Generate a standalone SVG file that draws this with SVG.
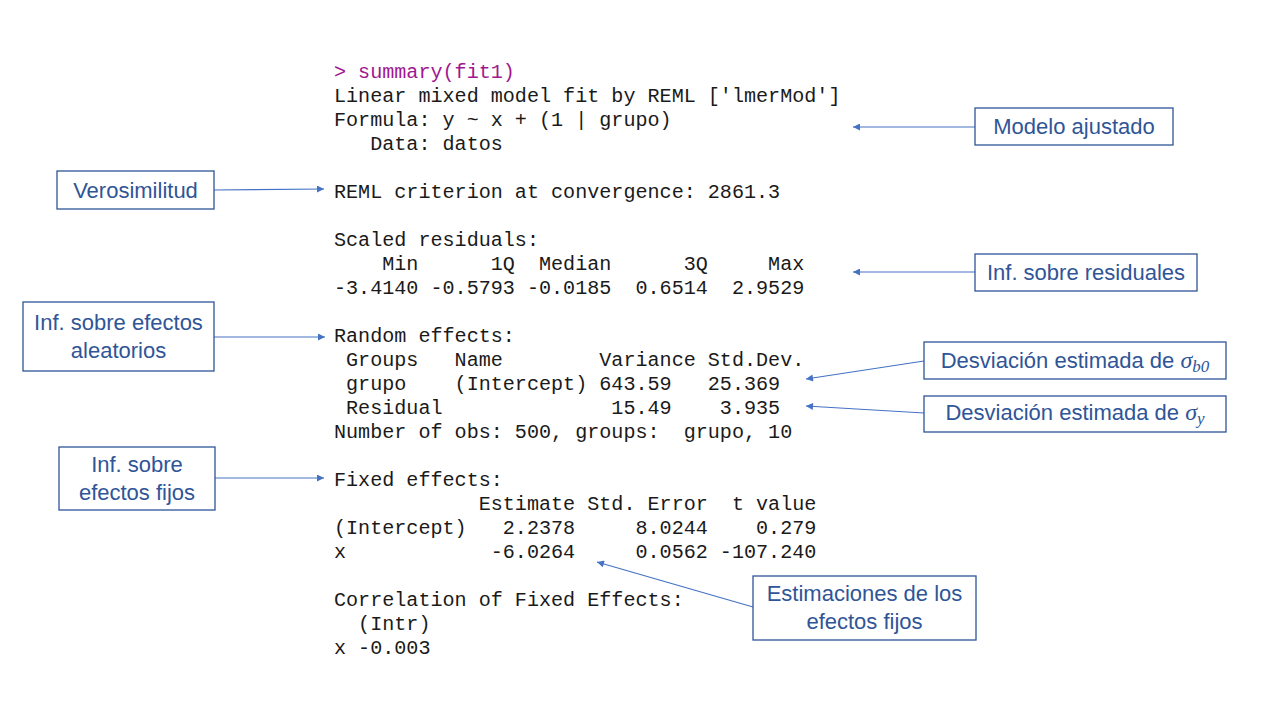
<svg xmlns="http://www.w3.org/2000/svg" width="1280" height="720" viewBox="0 0 1280 720">
<style>
.code{font-family:"Liberation Mono","DejaVu Sans Mono",monospace;font-size:20.1px;fill:#1a1a1a;white-space:pre}
.prompt{fill:#A0178F}
.box{fill:#fff;stroke:#2F5597;stroke-width:1.3}
.lbl{font-family:"Liberation Sans","Open Sans",sans-serif;font-size:22px;fill:#2F5597;text-anchor:middle}
.m{font-family:"Liberation Serif","DejaVu Serif",serif;font-style:italic}
.conn{stroke:#4472C4;stroke-width:1.2;fill:none;marker-end:url(#ah)}
</style>
<defs>
<marker id="ah" viewBox="0 0 10 10" refX="10" refY="5" markerWidth="8" markerHeight="7" markerUnits="userSpaceOnUse" orient="auto">
<path d="M0,0 L10,5 L0,10 z" fill="#4472C4"/>
</marker>
</defs>
<rect width="1280" height="720" fill="#fff"/>
<g id="output" xml:space="preserve">
<text class="code prompt" x="334" y="78">&gt; summary(fit1)</text>
<text class="code" x="334" y="102">Linear mixed model fit by REML ['lmerMod']</text>
<text class="code" x="334" y="126">Formula: y ~ x + (1 | grupo)</text>
<text class="code" x="334" y="150">   Data: datos</text>
<text class="code" x="334" y="198">REML criterion at convergence: 2861.3</text>
<text class="code" x="334" y="246">Scaled residuals: </text>
<text class="code" x="334" y="270">    Min      1Q  Median      3Q     Max </text>
<text class="code" x="334" y="294">-3.4140 -0.5793 -0.0185  0.6514  2.9529 </text>
<text class="code" x="334" y="342">Random effects:</text>
<text class="code" x="334" y="366"> Groups   Name        Variance Std.Dev.</text>
<text class="code" x="334" y="390"> grupo    (Intercept) 643.59   25.369  </text>
<text class="code" x="334" y="414"> Residual              15.49    3.935  </text>
<text class="code" x="334" y="438">Number of obs: 500, groups:  grupo, 10</text>
<text class="code" x="334" y="486">Fixed effects:</text>
<text class="code" x="334" y="510">            Estimate Std. Error  t value</text>
<text class="code" x="334" y="534">(Intercept)   2.2378     8.0244    0.279</text>
<text class="code" x="334" y="558">x            -6.0264     0.0562 -107.240</text>
<text class="code" x="334" y="606">Correlation of Fixed Effects:</text>
<text class="code" x="334" y="630">  (Intr)</text>
<text class="code" x="334" y="654">x -0.003</text>
</g>
<g id="connectors">
<line class="conn" x1="975" y1="127" x2="853" y2="127"/>
<line class="conn" x1="975" y1="272" x2="853" y2="272"/>
<line class="conn" x1="214" y1="190" x2="324" y2="189"/>
<line class="conn" x1="214" y1="337" x2="325" y2="337"/>
<line class="conn" x1="215" y1="478" x2="324" y2="478"/>
<line class="conn" x1="924" y1="361" x2="806" y2="379"/>
<line class="conn" x1="924" y1="413" x2="806" y2="406"/>
<line class="conn" x1="753" y1="607" x2="597" y2="562"/>
</g>
<g id="modelo">
<rect class="box" x="975" y="108" width="198" height="37"/>
<text class="lbl" x="1074" y="134">Modelo ajustado</text>
</g>
<g id="residuales">
<rect class="box" x="975" y="254" width="222" height="37"/>
<text class="lbl" x="1086" y="280">Inf. sobre residuales</text>
</g>
<g id="verosimilitud">
<rect class="box" x="57" y="171" width="157" height="38"/>
<text class="lbl" x="135.5" y="198">Verosimilitud</text>
</g>
<g id="aleatorios">
<rect class="box" x="23" y="302" width="191" height="69"/>
<text class="lbl" x="118.5" y="330">Inf. sobre efectos</text>
<text class="lbl" x="118.5" y="358">aleatorios</text>
</g>
<g id="fijos">
<rect class="box" x="59" y="447" width="156" height="63"/>
<text class="lbl" x="137" y="472">Inf. sobre</text>
<text class="lbl" x="137" y="500">efectos fijos</text>
</g>
<g id="sigma_b0">
<rect class="box" x="924" y="342" width="302" height="37"/>
<text class="lbl" x="1075" y="368">Desviación estimada de <tspan class="m" font-size="24">σ</tspan><tspan class="m" font-size="17" dy="4">b0</tspan></text>
</g>
<g id="sigma_y">
<rect class="box" x="924" y="396" width="302" height="36"/>
<text class="lbl" x="1075" y="420">Desviación estimada de <tspan class="m" font-size="24">σ</tspan><tspan class="m" font-size="17" dy="4">y</tspan></text>
</g>
<g id="estimaciones">
<rect class="box" x="753" y="576" width="223" height="64"/>
<text class="lbl" x="864.5" y="601">Estimaciones de los</text>
<text class="lbl" x="864.5" y="629">efectos fijos</text>
</g>
</svg>
